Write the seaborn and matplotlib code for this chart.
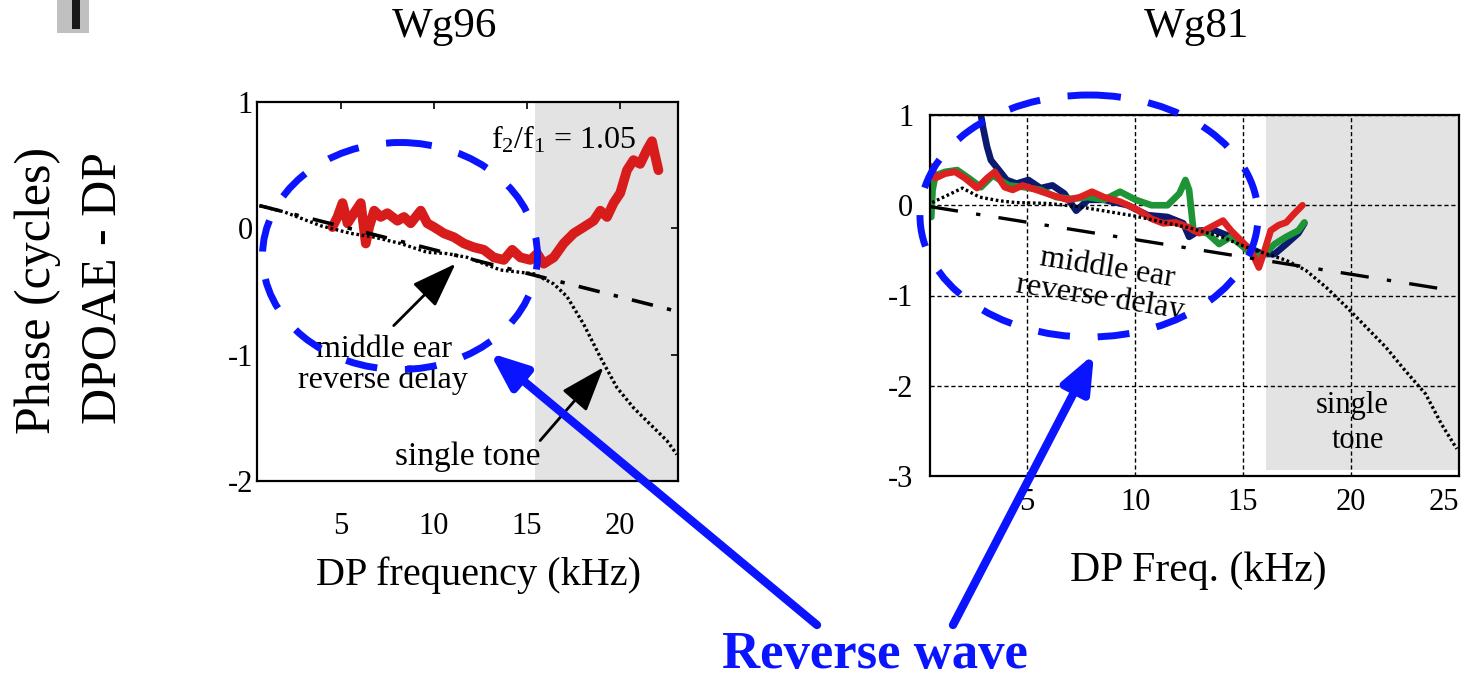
import numpy as np
import pandas as pd
import matplotlib
matplotlib.use("Agg")
import matplotlib.pyplot as plt
import seaborn as sns
from matplotlib.patches import Ellipse, Rectangle

# ---------------- data : Wg96 (left panel) ----------------
wg96_red_f = [4.55, 4.82, 5.09, 5.36, 5.71, 6.07, 6.34, 6.52, 6.79, 7.14, 7.5, 8.04, 8.39, 8.75,
              9.29, 9.64, 10.0, 10.54, 11.07, 11.61, 12.14, 12.68, 13.21, 13.75, 14.2, 14.64,
              15.18, 15.54, 15.89, 16.43, 16.96, 17.5, 18.04, 18.57, 18.93, 19.29, 19.64, 20.0,
              20.36, 20.71, 21.07, 21.43, 21.7, 21.88, 22.05]
wg96_red_phase = [0.01, 0.09, 0.20, 0.04, 0.12, 0.20, -0.12, 0.01, 0.14, 0.09, 0.12, 0.06, 0.09,
                  0.04, 0.14, 0.04, 0.01, -0.04, -0.07, -0.12, -0.15, -0.17, -0.23, -0.25, -0.17,
                  -0.23, -0.25, -0.20, -0.28, -0.23, -0.12, -0.04, 0.01, 0.06, 0.14, 0.09, 0.20,
                  0.28, 0.46, 0.54, 0.51, 0.62, 0.69, 0.57, 0.46]
wg96_tone_f = [0.63, 1.96, 3.93, 5.54, 6.79, 8.21, 9.64, 10.71, 11.79, 13.57, 15.36, 16.43, 17.14,
               18.04, 18.93, 19.82, 20.71, 21.6, 22.5, 23.04]
wg96_tone_phase = [0.18, 0.13, 0.02, -0.04, -0.07, -0.12, -0.19, -0.20, -0.23, -0.33, -0.36, -0.44,
                   -0.54, -0.76, -1.02, -1.26, -1.42, -1.55, -1.68, -1.79]
wg96_delay_f = [0.63, 22.86]
wg96_delay_phase = [0.18, -0.65]
wg96_shade = (15.4, 23.1)

# ---------------- data : Wg81 (right panel) ----------------
wg81_red_f = [0.56, 0.75, 1.2, 1.66, 2.12, 2.68, 3.14, 3.5, 3.96, 4.33, 4.79, 5.43, 6.17, 6.9,
              7.45, 8.0, 8.56, 9.3, 10.03, 10.76, 11.3, 11.87, 12.42, 12.97, 13.52, 14.07, 14.44,
              14.9, 15.36, 15.73, 16.0, 16.28, 16.65, 17.0, 17.38, 17.75]
wg81_red_phase = [0.43, 0.30, 0.35, 0.37, 0.30, 0.19, 0.30, 0.37, 0.20, 0.17, 0.22, 0.17, 0.11,
                  0.06, 0.09, 0.15, 0.09, 0.04, -0.04, -0.15, -0.20, -0.19, -0.24, -0.31, -0.24,
                  -0.17, -0.28, -0.39, -0.50, -0.69, -0.50, -0.28, -0.22, -0.19, -0.09, 0.0]
wg81_green_f = [0.56, 0.62, 0.75, 1.2, 1.76, 2.3, 2.86, 3.41, 4.15, 4.88, 5.62, 6.35, 7.09, 7.82,
                8.56, 9.3, 10.03, 10.76, 11.5, 12.05, 12.33, 12.5, 12.7, 13.34, 13.89, 14.44, 15.0,
                15.54, 16.0, 16.46, 17.0, 17.56, 17.84]
wg81_green_phase = [-0.13, 0.17, 0.33, 0.37, 0.39, 0.30, 0.20, 0.33, 0.22, 0.20, 0.17, 0.09, 0.07,
                    0.09, 0.06, 0.15, 0.06, 0.0, 0.0, 0.13, 0.28, 0.17, -0.28, -0.31, -0.43, -0.35,
                    -0.46, -0.57, -0.54, -0.43, -0.35, -0.28, -0.19]
wg81_navy_f = [2.86, 2.95, 3.14, 3.32, 3.69, 4.05, 4.51, 5.06, 5.62, 6.17, 6.72, 7.27, 7.82, 8.56,
               9.66, 10.58, 11.5, 12.23, 12.5, 12.97, 13.7, 14.44, 15.17, 15.9, 16.46, 17.0, 17.56,
               17.84]
wg81_navy_phase = [1.0, 0.87, 0.65, 0.50, 0.39, 0.28, 0.24, 0.28, 0.19, 0.22, 0.13, -0.06, 0.06,
                   0.06, 0.0, -0.11, -0.13, -0.20, -0.35, -0.28, -0.28, -0.35, -0.46, -0.54, -0.54,
                   -0.43, -0.31, -0.20]
wg81_tone_f = [0.6, 2.0, 2.8, 3.7, 4.45, 6.0, 7.5, 10.0, 12.5, 14.0, 15.0, 16.1, 17.0, 17.9, 18.85,
               19.8, 20.7, 21.6, 22.5, 23.45, 24.2, 24.9]
wg81_tone_phase = [0.03, 0.19, 0.09, 0.05, 0.03, 0.02, -0.02, -0.12, -0.25, -0.35, -0.45, -0.54,
                   -0.61, -0.72, -0.91, -1.13, -1.35, -1.57, -1.83, -2.09, -2.43, -2.70]
wg81_delay_f = [0.5, 24.3]
wg81_delay_phase = [-0.015, -0.93]
wg81_shade = (16.06, 25.0)

left_xticks = [5, 10, 15, 20]
left_yticks = [-2, -1, 0, 1]
right_xticks = [5, 10, 15, 20, 25]
right_yticks = [-3, -2, -1, 0, 1]

# ---------------- style ----------------
sns.set_theme(style="white")
plt.rcParams.update({
    "font.family": ["Liberation Serif", "DejaVu Serif"],
    "mathtext.fontset": "custom",
    "mathtext.rm": "Liberation Serif",
    "mathtext.it": "Liberation Serif",
    "axes.unicode_minus": False,
    "axes.edgecolor": "black",
    "text.color": "black",
    "xtick.color": "black",
    "ytick.color": "black",
    "axes.labelcolor": "black",
})

W, H = 1468, 678
fig = plt.figure(figsize=(W / 100, H / 100), dpi=100)
fig.patch.set_facecolor("white")

def frac(l, t, r, b):
    return [l / W, 1 - b / H, (r - l) / W, (b - t) / H]

ax1 = fig.add_axes(frac(257, 102, 678, 481))
ax2 = fig.add_axes(frac(930, 115, 1459, 476))

# ---------------- left panel ----------------
ax1.axvspan(*wg96_shade, color="#e3e3e3", lw=0, zorder=0)
sns.lineplot(x=wg96_red_f, y=wg96_red_phase, ax=ax1, color="#d81b1b", lw=7,
             estimator=None, sort=False, zorder=2)
sns.lineplot(x=wg96_tone_f, y=wg96_tone_phase, ax=ax1, color="black", lw=2.4,
             estimator=None, sort=False, zorder=3, linestyle=(0, (0.8, 0.8)))
sns.lineplot(x=wg96_delay_f, y=wg96_delay_phase, ax=ax1, color="black", lw=2.6,
             estimator=None, sort=False, zorder=3, linestyle=(0, (6, 4, 1.2, 4)))
ax1.set_xlim(0.5, 23.1)
ax1.set_ylim(-2, 1)
ax1.set_xticks(left_xticks)
ax1.set_yticks(left_yticks)
ax1.tick_params(direction="in", top=True, right=True, length=5, width=1.2, labelsize=22)
ax1.tick_params(axis="x", pad=22)
ax1.tick_params(axis="y", pad=3)
for s in ax1.spines.values():
    s.set_linewidth(1.6)
    s.set_color("black")
ax1.set_xlabel("DP frequency (kHz)", fontsize=29)
ax1.xaxis.label.set_verticalalignment("baseline")
ax1.xaxis.set_label_coords(0.527, -0.275)
ax1.set_ylabel("")

ax1.text(16.95, 0.63, r"f$_2$/f$_1$ = 1.05", fontsize=23, ha="center", va="baseline", zorder=4)
ax1.text(7.3, -1.02, "middle ear", fontsize=23, ha="center", va="baseline", zorder=4)
ax1.text(7.25, -1.26, "reverse delay", fontsize=23, ha="center", va="baseline", zorder=4)
ax1.text(11.8, -1.87, "single tone", fontsize=24, ha="center", va="baseline", zorder=4)
arw = dict(arrowstyle="-|>,head_length=1.4,head_width=0.5", color="black", lw=2,
           mutation_scale=20, shrinkA=0, shrinkB=0)
ax1.annotate("", xy=(11.16, -0.28), xytext=(7.84, -0.77), arrowprops=arw, zorder=4)
ax1.annotate("", xy=(19.1, -1.10), xytext=(15.7, -1.68), arrowprops=arw, zorder=4)

# ---------------- right panel ----------------
ax2.axvspan(*wg81_shade, ymin=0.018, ymax=1, color="#e3e3e3", lw=0, zorder=0)
ax2.set_axisbelow(True)
ax2.grid(True, color="black", linestyle=(0, (3, 2)), lw=1.0)
sns.lineplot(x=wg81_navy_f, y=wg81_navy_phase, ax=ax2, color="#0b1a6e", lw=4.8,
             estimator=None, sort=False, zorder=2)
sns.lineplot(x=wg81_green_f, y=wg81_green_phase, ax=ax2, color="#1e9436", lw=4.8,
             estimator=None, sort=False, zorder=2)
sns.lineplot(x=wg81_red_f, y=wg81_red_phase, ax=ax2, color="#dd2020", lw=4.8,
             estimator=None, sort=False, zorder=2)
sns.lineplot(x=wg81_tone_f, y=wg81_tone_phase, ax=ax2, color="black", lw=2.4,
             estimator=None, sort=False, zorder=3, linestyle=(0, (0.8, 0.8)))
sns.lineplot(x=wg81_delay_f, y=wg81_delay_phase, ax=ax2, color="black", lw=2.4,
             estimator=None, sort=False, zorder=3, linestyle=(0, (8.5, 5.5, 1.3, 5.5)))
ax2.set_xlim(0.5, 25)
ax2.set_ylim(-3, 1)
ax2.set_xticks(right_xticks)
ax2.set_yticks(right_yticks)
ax2.tick_params(length=0, labelsize=22)
ax2.tick_params(axis="x", pad=9)
ax2.tick_params(axis="y", pad=12)
ax2.get_xticklabels()[-1].set_horizontalalignment("right")
for s in ax2.spines.values():
    s.set_linewidth(1.6)
    s.set_color("black")
ax2.set_xlabel("DP Freq. (kHz)", fontsize=30)
ax2.xaxis.label.set_verticalalignment("baseline")
ax2.xaxis.set_label_coords(0.508, -0.29)
ax2.set_ylabel("")

ax2.text(8.7, -0.70, "middle ear", fontsize=23, ha="center", va="center",
         rotation=-9, rotation_mode="anchor", zorder=4)
ax2.text(8.4, -1.02, "reverse delay", fontsize=23, ha="center", va="center",
         rotation=-9, rotation_mode="anchor", zorder=4)
ax2.text(20.05, -2.30, "single", fontsize=22, ha="center", va="baseline", zorder=4)
ax2.text(20.3, -2.69, "tone", fontsize=22, ha="center", va="baseline", zorder=4)

# ---------------- overlay (slide annotations) ----------------
ov = fig.add_axes([0, 0, 1, 1], zorder=10)
ov.set_xlim(0, W)
ov.set_ylim(H, 0)
ov.axis("off")
ov.patch.set_alpha(0)

ov.add_patch(Rectangle((57, 0), 32, 33, color="#c0c0c0", lw=0))
ov.add_patch(Rectangle((72, 0), 8, 29, color="#1a1a1a", lw=0))

ov.text(445, 37, "Wg96", fontsize=31, ha="center", va="baseline")
ov.text(1197, 37, "Wg81", fontsize=31, ha="center", va="baseline")
ov.text(50, 290, "Phase (cycles)", fontsize=36, rotation=90, rotation_mode="anchor",
        ha="center", va="baseline")
ov.text(115, 288, "DPOAE - DP", fontsize=36, rotation=90, rotation_mode="anchor",
        ha="center", va="baseline")

dash = (0, (4.6, 4.0))
ov.add_patch(Ellipse((400, 256), 275, 227, fill=False, ec="#0a14ff", lw=5, ls=dash))
ov.add_patch(Ellipse((1089, 216), 338, 242, fill=False, ec="#0a14ff", lw=5, ls=dash))

barw = dict(arrowstyle="-|>,head_length=1.1,head_width=0.45", color="#0a14ff", lw=6,
            mutation_scale=20, shrinkA=0, shrinkB=0)
ov.annotate("", xy=(490, 353), xytext=(817, 625), arrowprops=barw)
ov.annotate("", xy=(1094, 354), xytext=(953, 625), arrowprops=barw)

ov.text(875, 668, "Reverse wave", fontsize=38, fontweight="bold", color="#0a14ff",
        ha="center", va="baseline")

fig.savefig("out.png", dpi=100)
